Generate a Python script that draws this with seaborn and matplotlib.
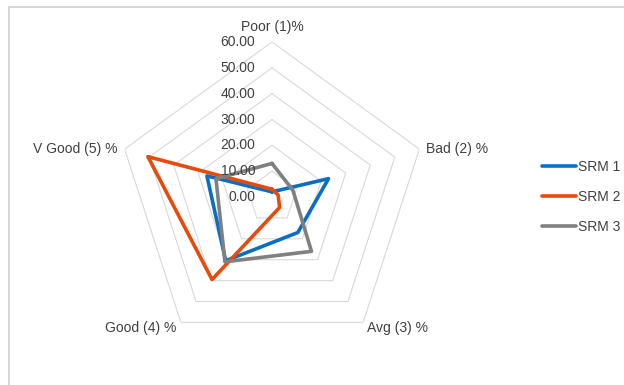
import numpy as np
import pandas as pd
import matplotlib
matplotlib.use("Agg")
import matplotlib.pyplot as plt
from matplotlib.patches import Rectangle
import seaborn as sns

# Rating categories (clockwise from the top) and the share of answers per SRM
categories = ["Poor (1)%", "Bad (2) %", "Avg (3) %", "Good (4) %", "V Good (5) %"]
srm1 = [2.0, 23.0, 17.0, 30.5, 26.5]
srm2 = [3.0, 2.5, 5.0, 39.5, 50.5]
srm3 = [13.0, 8.5, 26.0, 31.0, 22.8]
series_names = ["SRM 1", "SRM 2", "SRM 3"]
ring_levels = [0, 10, 20, 30, 40, 50, 60]
ring_labels = ["0.00", "10.00", "20.00", "30.00", "40.00", "50.00", "60.00"]

colors = ["#0A6FC2", "#E84A0C", "#808080"]

n = len(categories)
angles = np.linspace(0, 2 * np.pi, n, endpoint=False)
closed_angles = np.append(angles, 2 * np.pi)

rows = []
for name, vals in zip(series_names, [srm1, srm2, srm3]):
    closed_vals = list(vals) + [vals[0]]
    for a, v in zip(closed_angles, closed_vals):
        rows.append({"theta": a, "value": v, "series": name})
df = pd.DataFrame(rows)

sns.set_style("white")
plt.rcParams["font.family"] = ["Liberation Sans", "DejaVu Sans"]

fig = plt.figure(figsize=(6.24, 3.85), dpi=100)
ax = fig.add_axes([0.1875, 0.0857, 0.4968, 0.8052], projection="polar")
ax.set_theta_offset(np.pi / 2)
ax.set_theta_direction(-1)
ax.set_ylim(0, 60)
ax.grid(False)
ax.spines["polar"].set_visible(False)
ax.set_xticks([])
ax.set_yticks([])
ax.patch.set_alpha(0)

# pentagon gridlines
grid_color = "#D9D9D9"
for lvl in ring_levels[1:]:
    ax.plot(closed_angles, [lvl] * (n + 1), color=grid_color, lw=0.8, zorder=1)

sns.lineplot(data=df, x="theta", y="value", hue="series", palette=colors,
             sort=False, estimator=None, lw=2.6, ax=ax, zorder=3)
ax.set_xlabel("")
ax.set_ylabel("")

# radial value labels along the top spoke
for lvl, lab in zip(ring_levels, ring_labels):
    ax.annotate(lab, xy=(0, lvl), xytext=(-12, 0), textcoords="offset points",
                ha="right", va="center", fontsize=10, color="#404040", zorder=4)

# category labels around the outer ring
label_offsets = [((0, 11), "center", "center"),
                 ((5, 0), "left", "center"),
                 ((3, -4), "left", "center"),
                 ((-3, -4), "right", "center"),
                 ((-5, 0), "right", "center")]
for a, cat, (off, ha, va) in zip(angles, categories, label_offsets):
    ax.annotate(cat, xy=(a, 60), xytext=off, textcoords="offset points",
                ha=ha, va=va, fontsize=10, color="#404040")

leg = ax.legend(loc="center left", bbox_to_anchor=(0.868, 0.489),
                bbox_transform=fig.transFigure, frameon=False, fontsize=10,
                handlelength=2.5, handletextpad=0.1, labelspacing=1.15,
                borderpad=0, borderaxespad=0)
for t in leg.get_texts():
    t.set_color("#404040")
for line in leg.get_lines():
    line.set_linewidth(2.6)

# chart area border
fig.patches.append(Rectangle((8.5 / 624, -0.1), 1.0, (385 - 7.5) / 385 + 0.1,
                             transform=fig.transFigure, fill=False,
                             edgecolor="#D0D0D0", lw=1.2))

fig.savefig("out.png", dpi=100)
